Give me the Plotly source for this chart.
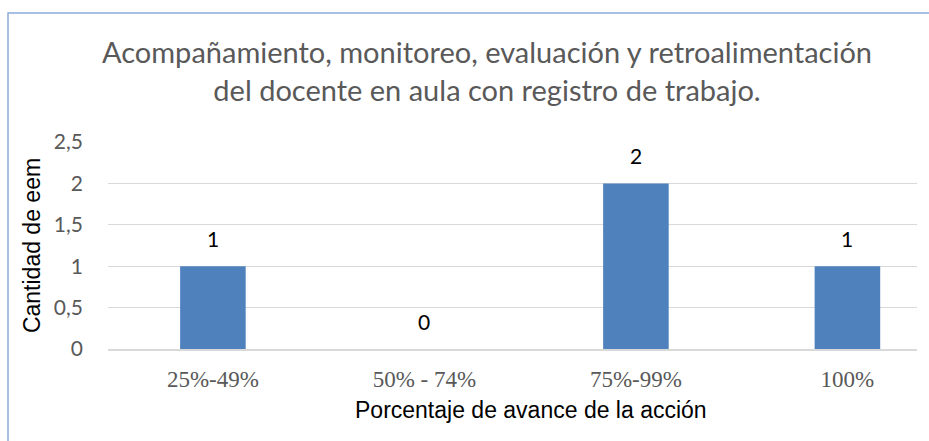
import plotly.graph_objects as go

# Chart data
categories = ["25%-49%", "50% - 74%", "75%-99%", "100%"]
counts = [1, 0, 2, 1]
y_ticks = [0, 0.5, 1, 1.5, 2, 2.5]
y_tick_labels = ["0", "0,5", "1", "1,5", "2", "2,5"]

title_text = ("Acompañamiento, monitoreo, evaluación y retroalimentación"
              "<br>del docente en aula con registro de trabajo.")
x_title = "Porcentaje de avance de la acción"
y_title = "Cantidad de eem"

bar_color = "#4F81BD"
grid_color = "#D9D9D9"
text_gray = "#595959"

fig = go.Figure()

fig.add_trace(go.Bar(
    x=list(range(len(categories))),
    y=counts,
    width=0.31,
    marker=dict(color=bar_color, line=dict(width=0)),
    hoverinfo="skip",
))

# Value labels above each bar
for i, v in enumerate(counts):
    fig.add_annotation(
        x=i, y=v, xref="x", yref="y",
        text=str(v), showarrow=False,
        yanchor="bottom", yshift=13,
        font=dict(family="Lato, Carlito, Liberation Sans", size=21, color="#000000"),
    )

# Two-line chart title
fig.add_annotation(
    x=0.468, y=1.345, xref="paper", yref="paper",
    xanchor="center", yanchor="middle",
    text=title_text, showarrow=False,
    font=dict(family="Lato, Carlito, Liberation Sans", size=29, color=text_gray),
)

# Horizontal axis title
fig.add_annotation(
    x=0.523, y=-0.295, xref="paper", yref="paper",
    xanchor="center", yanchor="middle",
    text=x_title, showarrow=False,
    font=dict(family="Liberation Sans, Arial", size=23, color="#000000"),
)

# Thin outer frame around the chart
fig.add_shape(
    type="rect", xref="paper", yref="paper",
    x0=-0.1236, x1=1.2, y0=-0.6, y1=1.623,
    line=dict(color="#8EAADB", width=1.5),
    fillcolor="rgba(0,0,0,0)", layer="below",
)

fig.update_layout(
    width=929, height=441,
    margin=dict(l=108, r=12, t=142, b=92),
    paper_bgcolor="white",
    plot_bgcolor="white",
    showlegend=False,
    xaxis=dict(
        tickmode="array",
        tickvals=list(range(len(categories))),
        ticktext=categories,
        range=[-0.496, 3.329],
        showgrid=False,
        zeroline=False,
        showline=True, linecolor=grid_color, linewidth=1.5,
        ticks="",
        ticklabelstandoff=9,
        tickfont=dict(family="Liberation Serif, Times New Roman", size=23, color=text_gray),
    ),
    yaxis=dict(
        range=[0, 2.5],
        tickmode="array",
        tickvals=y_ticks,
        ticktext=y_tick_labels,
        showgrid=True, gridcolor=grid_color, gridwidth=1,
        zeroline=False,
        showline=False,
        ticks="",
        ticklabelstandoff=24,
        tickfont=dict(family="Lato, Carlito, Liberation Sans", size=21, color=text_gray),
        title=dict(
            text=y_title,
            standoff=6,
            font=dict(family="Liberation Sans, Arial", size=23, color="#000000"),
        ),
    ),
)

fig.write_html("out.html")
